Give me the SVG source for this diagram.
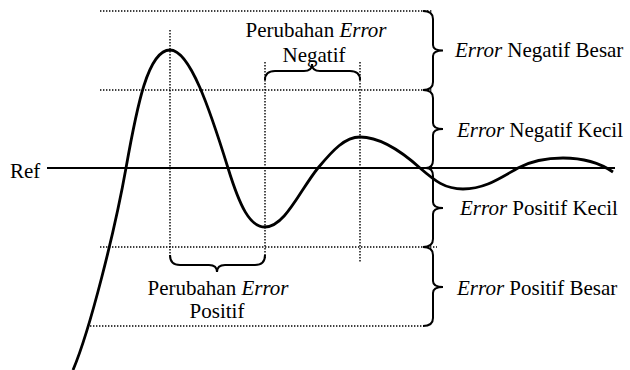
<svg xmlns="http://www.w3.org/2000/svg" width="630" height="370" viewBox="0 0 630 370">
<style>
.t{font-family:'Liberation Serif','Times New Roman','DejaVu Serif',serif;font-size:21px;fill:#000}
.i{font-style:italic}
.dot{stroke:#000;stroke-width:1.4;stroke-dasharray:1.4 1.6;fill:none}
.br{stroke:#000;stroke-width:2;fill:none}
.curve{stroke:#000;stroke-width:2.8;fill:none}
</style>
<rect width="630" height="370" fill="#fff"/>
<g id="grid">
<line class="dot" x1="100" y1="11" x2="432" y2="11"/>
<line class="dot" x1="100" y1="90" x2="432" y2="90"/>
<line class="dot" x1="100" y1="247" x2="437" y2="247"/>
<line class="dot" x1="87" y1="326" x2="424" y2="326"/>
<line class="dot" x1="170" y1="30" x2="170" y2="258"/>
<line class="dot" x1="265" y1="62" x2="265" y2="258"/>
<line class="dot" x1="360" y1="62" x2="360" y2="262"/>
</g>
<g id="ref">
<line x1="47" y1="168" x2="615" y2="168" stroke="#000" stroke-width="2"/>
<text class="t" x="10" y="178" font-family="Liberation Serif, serif" font-size="24">Ref</text>
</g>
<g id="connectors">
<path class="curve" d="M73,370 C90,330 115,230 126,168 C137,106 148,50 170,50 C190,50 210,110 228,168 C240,207 250,227 265,227 C285,227 300,190 318,168 C333,150 345,137 360,137 C380,137 400,150 420,168 C435,181 445,189 463,189 C485,189 500,178 518,168 C533,160 548,158 563,158 C585,158 600,163 613,172"/>
</g>
<g id="brace-neg-besar">
<path class="br" d="M423,11 Q433,11 433,19 L433,45 Q433,50.5 443,50.5 Q433,50.5 433,56 L433,82 Q433,90 423,90"/>
<text class="t" x="455" y="57" font-family="Liberation Serif, serif"><tspan class="i">Error</tspan> Negatif Besar</text>
</g>
<g id="brace-neg-kecil">
<path class="br" d="M423,90 Q433,90 433,98 L433,123 Q433,129 443,129 Q433,129 433,135 L433,160 Q433,168 426,168"/>
<text class="t" x="457" y="137" font-family="Liberation Serif, serif"><tspan class="i">Error</tspan> Negatif Kecil</text>
</g>
<g id="brace-pos-kecil">
<path class="br" d="M426,168 Q433,168 433,176 L433,202 Q433,208 443,208 Q433,208 433,214 L433,239 Q433,247 423,247"/>
<text class="t" x="460" y="215" font-family="Liberation Serif, serif"><tspan class="i">Error</tspan> Positif Kecil</text>
</g>
<g id="brace-pos-besar">
<path class="br" d="M423,247 Q433,247 433,255 L433,281 Q433,287 443,287 Q433,287 433,293 L433,318 Q433,326 423,326"/>
<text class="t" x="457" y="295" font-family="Liberation Serif, serif"><tspan class="i">Error</tspan> Positif Besar</text>
</g>
<g id="perubahan-negatif">
<path class="br" d="M265,80 Q265,71 275,71 L304,71 Q312,71 312,64 Q312,71 320,71 L350,71 Q360,71 360,80"/>
<text class="t" x="316" y="37" text-anchor="middle" font-family="Liberation Serif, serif">Perubahan <tspan class="i">Error</tspan></text>
<text class="t" x="314" y="62" text-anchor="middle" font-family="Liberation Serif, serif">Negatif</text>
</g>
<g id="perubahan-positif">
<path class="br" d="M170,255 Q170,265 180,265 L209,265 Q217,265 217,272 Q217,265 225,265 L255,265 Q265,265 265,255"/>
<text class="t" x="218" y="295" text-anchor="middle" font-family="Liberation Serif, serif">Perubahan <tspan class="i">Error</tspan></text>
<text class="t" x="217" y="318" text-anchor="middle" font-family="Liberation Serif, serif">Positif</text>
</g>
</svg>
